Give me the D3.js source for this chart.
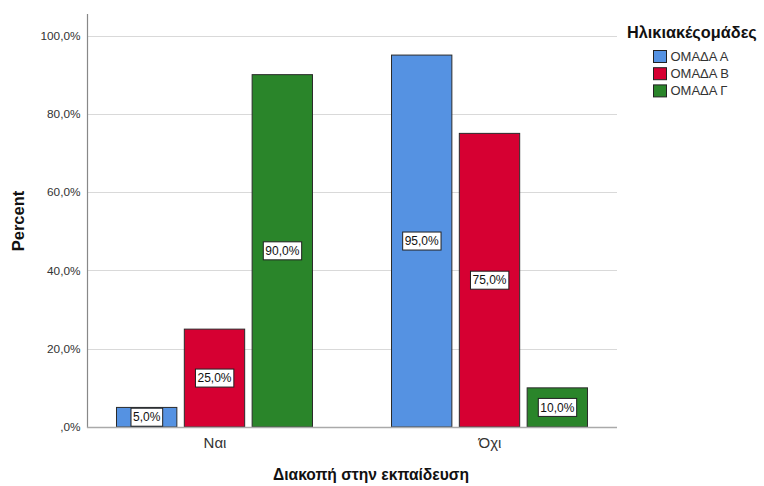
<!DOCTYPE html>
<html><head><meta charset="utf-8">
<script src="https://cdn.jsdelivr.net/npm/d3@7"></script>
<style>body{margin:0;background:#fff}svg{display:block;font-family:"Liberation Sans",Arial,sans-serif}</style>
</head><body><svg id="c" width="764" height="486"></svg>
<script>
const categories = ["Ναι", "Όχι"];
const groups = ["ΟΜΑΔΑ Α", "ΟΜΑΔΑ Β", "ΟΜΑΔΑ Γ"];
const valuesA = [5.0, 95.0];
const valuesB = [25.0, 75.0];
const valuesG = [90.0, 10.0];
const yTicks = [0, 20, 40, 60, 80, 100];
const colors = ["#5592e2", "#d60032", "#2a852a"];
const legendTitle = "Ηλικιακέςομάδες";
const xTitle = "Διακοπή στην εκπαίδευση";
const yTitle = "Percent";

(function() {
const series = [valuesA, valuesB, valuesG];
const svg = d3.select("#c");
const pLeft = 87, pRight = 617, pTop = 14, pBottom = 427;
const fmt = v => (v === 0 ? ",0%" : d3.format(".1f")(v).replace(".", ",") + "%");

const y = d3.scaleLinear().domain([0, 100]).range([pBottom, 35.5]);
const x0 = d3.scalePoint().domain(categories).range([pLeft, pRight]).padding(0.4636);
const x1 = d3.scaleBand().domain(groups).range([-98, 98]).paddingInner(0.11);

// gridlines
svg.append("g").selectAll("line").data(yTicks.filter(t => t > 0)).join("line")
  .attr("x1", pLeft).attr("x2", pRight).attr("y1", d => Math.round(y(d)) + 0.5).attr("y2", d => Math.round(y(d)) + 0.5)
  .attr("stroke", "#d9d9d9").attr("stroke-width", 1.2);

// y axis
const yAxis = svg.append("g").attr("transform", `translate(${pLeft + 0.5},0)`)
  .call(d3.axisLeft(y).tickValues(yTicks).tickSize(0).tickPadding(7).tickFormat(fmt));
yAxis.select(".domain").remove();
yAxis.selectAll("text").attr("font-size", 11.8).attr("fill", "#333").attr("font-family", "Liberation Sans, Arial, sans-serif");
svg.append("line").attr("x1", pLeft + 0.5).attr("x2", pLeft + 0.5).attr("y1", pTop).attr("y2", pBottom + 1).attr("stroke", "#888").attr("stroke-width", 1.2);

// bars
const data = [];
categories.forEach((c, i) => groups.forEach((g, j) => data.push({c, g, j, v: series[j][i]})));
svg.append("g").selectAll("rect").data(data).join("rect")
  .attr("x", d => x0(d.c) + x1(d.g)).attr("width", x1.bandwidth())
  .attr("y", d => y(d.v)).attr("height", d => pBottom - y(d.v))
  .attr("fill", d => colors[d.j]).attr("stroke", "#2b2b2b").attr("stroke-width", 1);

// x axis baseline
svg.append("line").attr("x1", pLeft).attr("x2", pRight).attr("y1", pBottom + 0.5).attr("y2", pBottom + 0.5).attr("stroke", "#aaa").attr("stroke-width", 1.5);
const xAxis = svg.append("g").attr("transform", `translate(0,${pBottom})`)
  .call(d3.axisBottom(x0).tickSize(0).tickPadding(10));
xAxis.select(".domain").remove();
xAxis.selectAll("text").attr("font-size", 15).attr("fill", "#333").attr("font-family", "Liberation Sans, Arial, sans-serif");

// labels
const lab = svg.append("g").selectAll("g").data(data).join("g")
  .attr("transform", d => `translate(${x0(d.c) + x1(d.g) + x1.bandwidth() / 2},${(y(d.v) + pBottom) / 2})`);
lab.append("text").text(d => fmt(d.v)).attr("text-anchor", "middle").attr("dy", "0.35em")
  .attr("font-size", 12).attr("fill", "#111");
lab.each(function() {
  const g = d3.select(this), t = g.select("text").node().getBBox();
  g.insert("rect", "text").attr("x", t.x - 2).attr("y", -9).attr("width", t.width + 4).attr("height", 18)
    .attr("fill", "#fff").attr("stroke", "#222").attr("stroke-width", 1);
});

// titles
svg.append("text").attr("transform", "translate(24,221) rotate(-90)").attr("text-anchor", "middle")
  .attr("font-size", 16.5).attr("font-weight", "bold").attr("fill", "#111").text(yTitle);
svg.append("text").attr("x", 371).attr("y", 480).attr("text-anchor", "middle")
  .attr("font-size", 15.6).attr("font-weight", "bold").attr("fill", "#111").text(xTitle);

// legend
svg.append("text").attr("x", 627).attr("y", 37.5).attr("font-size", 16.3).attr("font-weight", "bold").attr("fill", "#111").text(legendTitle);
const leg = svg.append("g").selectAll("g").data(groups).join("g")
  .attr("transform", (d, i) => `translate(653.5,${50.5 + i * 17.2})`);
leg.append("rect").attr("width", 13).attr("height", 12).attr("fill", (d, i) => colors[i]).attr("stroke", "#222");
leg.append("text").attr("x", 17).attr("y", 6).attr("dy", "0.35em").attr("font-size", 13).attr("fill", "#333").text(d => d);
})();
</script></body></html>
